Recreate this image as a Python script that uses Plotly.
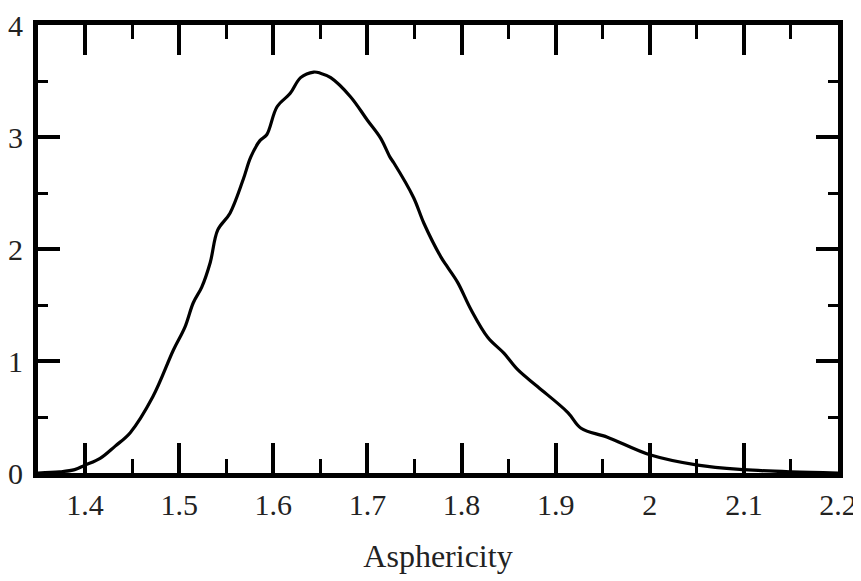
import plotly.graph_objects as go

asphericity = [1.35, 1.373, 1.389, 1.40, 1.416, 1.432, 1.448, 1.472, 1.494, 1.506, 1.515,
               1.524, 1.533, 1.541, 1.554, 1.568, 1.576, 1.586, 1.593, 1.604, 1.618,
               1.629, 1.643, 1.650, 1.661, 1.682, 1.700, 1.714, 1.724, 1.728, 1.749,
               1.760, 1.778, 1.785, 1.796, 1.810, 1.828, 1.845, 1.860, 1.881, 1.913,
               1.927, 1.955, 2.001, 2.051, 2.100, 2.150, 2.20]
density = [0.0, 0.01, 0.03, 0.07, 0.13, 0.24, 0.36, 0.68, 1.10, 1.30, 1.52,
           1.66, 1.88, 2.17, 2.32, 2.62, 2.82, 2.97, 3.02, 3.27, 3.39,
           3.53, 3.58, 3.57, 3.53, 3.36, 3.15, 2.99, 2.82, 2.77, 2.46,
           2.23, 1.93, 1.84, 1.70, 1.46, 1.21, 1.07, 0.92, 0.77, 0.54,
           0.40, 0.32, 0.16, 0.07, 0.03, 0.01, 0.0]

x_ticks = [1.4, 1.5, 1.6, 1.7, 1.8, 1.9, 2.0, 2.1, 2.2]
x_labels = ["1.4", "1.5", "1.6", "1.7", "1.8", "1.9", "2", "2.1", "2.2"]
y_ticks = [0, 1, 2, 3, 4]
y_labels = ["0", "1", "2", "3", "4"]

fig = go.Figure()
fig.add_trace(go.Scatter(x=asphericity, y=density, mode="lines",
                         line=dict(color="black", width=3.2), line_shape="spline",
                         showlegend=False))

serif = "Liberation Serif, Times New Roman, serif"
fig.update_layout(
    width=853, height=573,
    margin=dict(l=30, r=23, t=17, b=108),
    paper_bgcolor="white", plot_bgcolor="white",
    font=dict(family=serif, color="#222", size=30),
)
fig.update_xaxes(
    range=[1.35, 2.2], tickvals=x_ticks, ticktext=x_labels,
    automargin=False,
    showgrid=False, zeroline=False,
    showline=True, linewidth=5, linecolor="black", mirror="ticks",
    ticks="inside", ticklen=30, tickwidth=4, tickcolor="black",
    minor=dict(ticks="inside", ticklen=14, tickwidth=3, tickcolor="black", dtick=0.05, tick0=1.35, showgrid=False),
    tickfont=dict(family=serif, size=30, color="#222"),
    ticklabelstandoff=1,
    title=dict(text="Asphericity", font=dict(family=serif, size=32, color="#222"), standoff=26),
)
fig.update_yaxes(
    range=[0, 4], tickvals=y_ticks, ticktext=y_labels,
    automargin=False,
    showgrid=False, zeroline=False,
    showline=True, linewidth=5, linecolor="black", mirror="ticks",
    ticks="inside", ticklen=22, tickwidth=4, tickcolor="black",
    minor=dict(ticks="inside", ticklen=10, tickwidth=3, tickcolor="black", dtick=0.5, showgrid=False),
    tickfont=dict(family=serif, size=30, color="#222"),
    ticklabelstandoff=4,
)

fig.write_html("out.html")
